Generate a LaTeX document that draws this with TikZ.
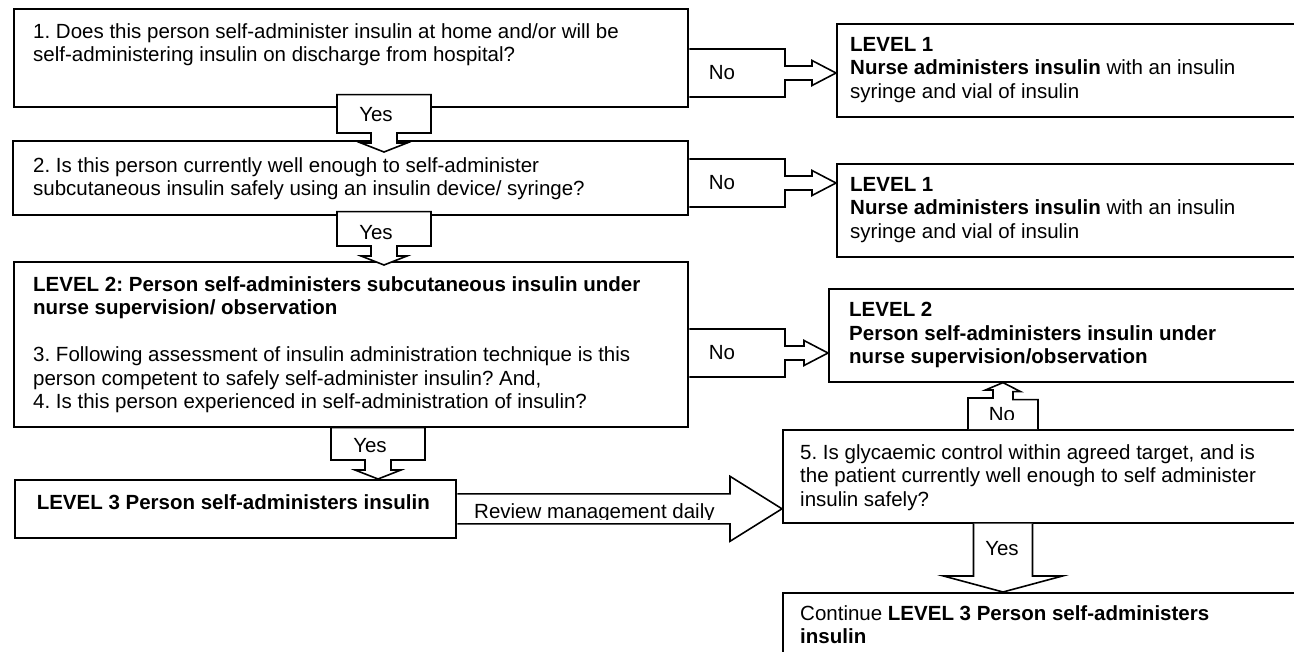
\documentclass[tikz,border=0pt]{standalone}
\usepackage{fontspec}
\setmainfont{Liberation Sans}
\usetikzlibrary{calc}
\frenchspacing
\begin{document}
\begin{tikzpicture}[x=1pt,y=-1pt,font=\fontsize{20.5}{23.5}\selectfont,line join=miter,
	box/.style={draw,line width=1.6pt,inner sep=0pt,anchor=north west},
	txt/.style={inner sep=0pt,anchor=north west,align=left},
	callout/.style={draw,fill=white,line width=1.6pt},
	lbl/.style={inner sep=0pt,anchor=base}]
	\clip (0,0) rectangle (1294,652);
	\fill[white] (0,0) rectangle (1294,652);
	% boxes
	\node[box,minimum width=674,minimum height=98] (q1) at (13,8) {};
	\node[box,minimum width=675,minimum height=74] (q2) at (12,140) {};
	\node[box,minimum width=674,minimum height=165] (q3) at (13,261) {};
	\node[box,minimum width=441,minimum height=58] (lv3) at (14,479) {};
	\node[box,minimum width=480,minimum height=93] (lva) at (836,23) {};
	\node[box,minimum width=480,minimum height=93] (lvb) at (836,163) {};
	\node[box,minimum width=490,minimum height=93] (lvc) at (828,288) {};
	\node[box,minimum width=520,minimum height=93] (q5) at (782,429) {};
	\node[box,minimum width=520,minimum height=80] (cont) at (782,592) {};
	% Yes arrows down
	\foreach \a/\b/\cx/\up/\dn/\ly in {q1/q2/384/13/12/122, q2/q3/384/4/4/240, q3/lv3/378/0/0/452} {
		\draw[callout] ($(\cx-47,0 |- \a.south)+(0,-\up)$) -- ($(\cx-47,0 |- \b.north)+(0,\dn-19)$)
			-- ++(34,0) -- ++(0,10) -- ++(-10,0) -- ($(\cx,0 |- \b.north)+(0,\dn)$)
			-- ++(23,-9) -- ++(-10,0) -- ++(0,-10) -- ++(34,0) -- ($(\cx+47,0 |- \a.south)+(0,-\up)$) -- cycle;
		\node[lbl] (yes-\a) at (\cx-8,\ly) {Yes};
	}
	% No arrows right
	\foreach \a/\b/\c in {q1/lva/73, q2/lvb/183, q3/lvc/353} {
		\draw[callout] ($(\a.east |- 0,\c)+(0.8,-24)$) -- (785,\c-24) -- (785,\c-7)
			-- ($(\b.west |- 0,\c)+(-24,-7)$) -- ++(0,-5.5) -- (\b.west |- 0,\c)
			-- ++(-24,12.5) -- ++(0,-5.5) -- (785,\c+7) -- (785,\c+24) -- ($(\a.east |- 0,\c)+(0.8,24)$);
		\node[lbl] (no-\a) at (722,\c+7) {No};
	}
	% No arrow up
	\draw[callout] ($(1003,0 |- q5.north)+(-35,0)$) -- ++(0,-31) -- ++(25,0) -- ++(0,-8) -- ++(-7.5,0)
		-- (1003,0 |- lvc.south) -- ++(17.5,9) -- ++(-7.5,0) -- ++(0,8) -- ++(25,0) -- ($(1003,0 |- q5.north)+(35,0)$);
	\begin{scope}
		\clip (968,398) rectangle (1038,420);
		\node[lbl] (no-q5) at (1002,421) {No};
	\end{scope}
	% Yes arrow down to continue
	\draw[callout] ($(1003,0 |- q5.south)+(-29.5,0)$) -- ($(1003,0 |- cont.north)+(-29.5,-16)$) -- ++(-30,0)
		-- (1003,0 |- cont.north) -- ++(59.5,-16) -- ++(-30,0) -- ($(1003,0 |- q5.south)+(29.5,0)$);
	\node[lbl] (yes-q5) at (1002,555) {Yes};
	% review arrow
	\draw[callout] ($(lv3.east)+(0.8,-15)$) -- ($(q5.west |- lv3.east)+(-52,-15)$) -- ++(0,-17.5)
		-- (q5.west |- lv3.east) -- ++(-52,32.5) -- ++(0,-17.5) -- ($(lv3.east)+(0.8,15)$);
	\begin{scope}
		\clip (460,495) rectangle (728,519);
		\node[lbl,anchor=base west] (review) at (474,518) {Review management daily};
	\end{scope}
	% texts
	\node[txt] (q1-txt) at ([shift={(20,15)}]q1.north west) {1. Does this person self-administer insulin at home and/or will be\\ self-administering insulin on discharge from hospital?};
	\node[txt] (q2-txt) at ([shift={(21,17)}]q2.north west) {2. Is this person currently well enough to self-administer\\ subcutaneous insulin safely using an insulin device/ syringe?};
	\node[txt] (q3-txt) at ([shift={(20,15)}]q3.north west) {\textbf{LEVEL 2: Person self-administers subcutaneous insulin under}\\ \textbf{nurse supervision/ observation}\\[23.5pt] 3. Following assessment of insulin administration technique is this\\ person competent to safely self-administer insulin? And,\\ 4. Is this person experienced in self-administration of insulin?};
	\node[txt,anchor=north] (lv3-txt) at ([shift={(-2,15)}]lv3.north) {\textbf{LEVEL 3 Person self-administers insulin}};
	\foreach \n in {lva,lvb}
		\node[txt] (\n-txt) at ([shift={(14,14)}]\n.north west) {\textbf{LEVEL 1}\\ \textbf{Nurse administers insulin} with an insulin\\ syringe and vial of insulin};
	\node[txt] (lvc-txt) at ([shift={(21,14)}]lvc.north west) {\textbf{LEVEL 2}\\ \textbf{Person self-administers insulin under}\\ \textbf{nurse supervision/observation}};
	\node[txt] (q5-txt) at ([shift={(18,15)}]q5.north west) {5. Is glycaemic control within agreed target, and is\\ the patient currently well enough to self administer\\ insulin safely?};
	\node[txt] (cont-txt) at ([shift={(18,13)}]cont.north west) {Continue \textbf{LEVEL 3 Person self-administers}\\ \textbf{insulin}};
\end{tikzpicture}
\end{document}
